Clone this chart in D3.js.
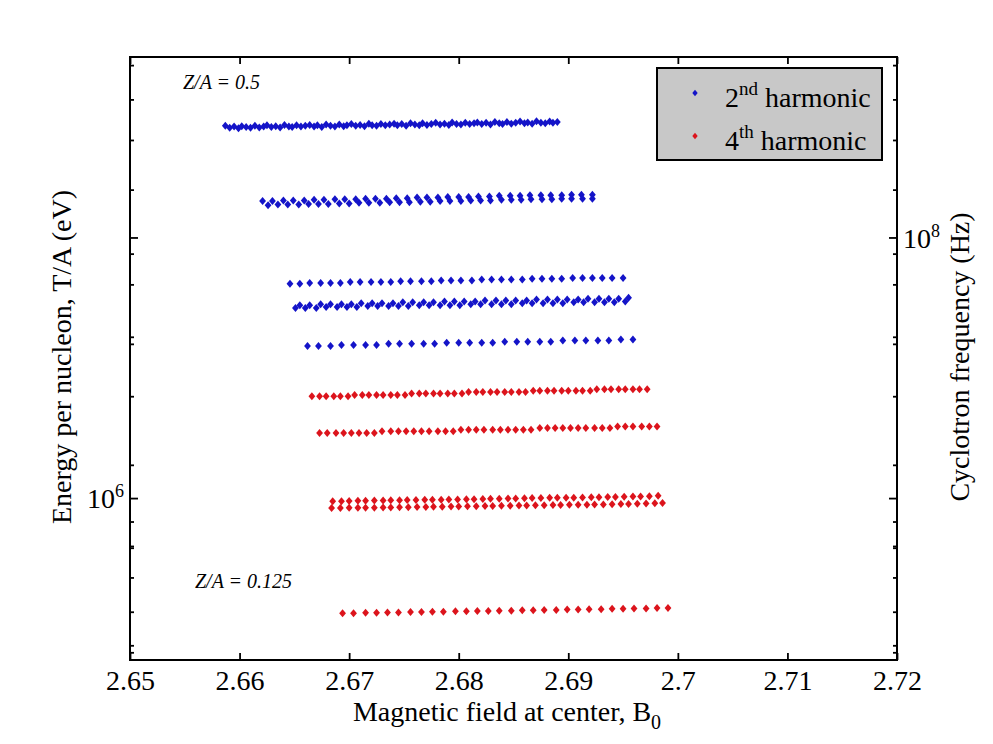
<!DOCTYPE html>
<html><head><meta charset="utf-8">
<script src="https://cdn.jsdelivr.net/npm/d3@7"></script>
</head><body style="margin:0;background:#fff">
<svg id="chart" width="993" height="744" style="display:block"></svg>
<script>
// ---------- axes definitions ----------
const xDomain = [2.65, 2.72];
const xTicks = [2.65, 2.66, 2.67, 2.68, 2.69, 2.70, 2.71, 2.72];
const xTickLabels = ["2.65", "2.66", "2.67", "2.68", "2.69", "2.7", "2.71", "2.72"];
const leftDomain = [4.83e5, 7.26e6];           // eV
const leftMajor = [1e6];
const leftMinor = [5e5, 6e5, 7e5, 8e5, 9e5, 2e6, 3e6, 4e6, 5e6, 6e6, 7e6];
const rightDomain = [3.87e7, 1.5e8];          // Hz
const rightMajor = [1e8];
const rightMinor = [4e7, 5e7, 6e7, 7e7, 8e7, 9e7];

// ---------- data (B in T, energy in MeV per nucleon) ----------
// 2nd harmonic (blue)
const blue1B = [2.6587,2.6591,2.6595,2.6599,2.6602,2.6606,2.6610,2.6614,2.6618,2.6622,2.6625,2.6629,2.6633,2.6637,2.6641,2.6645,2.6648,2.6652,2.6656,2.6660,2.6664,2.6668,2.6671,2.6675,2.6679,2.6683,2.6687,2.6691,2.6695,2.6698,2.6702,2.6706,2.6710,2.6714,2.6718,2.6721,2.6725,2.6729,2.6733,2.6737,2.6741,2.6744,2.6748,2.6752,2.6756,2.6760,2.6764,2.6767,2.6771,2.6775,2.6779,2.6783,2.6787,2.6791,2.6794,2.6798,2.6802,2.6806,2.6810,2.6814,2.6817,2.6821,2.6825,2.6829,2.6833,2.6837,2.6840,2.6844,2.6848,2.6852,2.6856,2.6860,2.6863,2.6867,2.6871,2.6875,2.6879,2.6883,2.6886,2.6890];
const blue1T = [5.33,5.28,5.31,5.27,5.32,5.30,5.28,5.33,5.29,5.31,5.34,5.30,5.32,5.29,5.35,5.31,5.30,5.34,5.31,5.33,5.35,5.31,5.34,5.30,5.36,5.33,5.31,5.36,5.32,5.34,5.37,5.33,5.35,5.32,5.38,5.34,5.33,5.37,5.34,5.36,5.38,5.34,5.37,5.33,5.39,5.36,5.34,5.39,5.35,5.37,5.40,5.36,5.38,5.35,5.41,5.37,5.36,5.40,5.37,5.39,5.41,5.37,5.40,5.36,5.42,5.39,5.37,5.42,5.38,5.40,5.43,5.39,5.41,5.38,5.44,5.40,5.39,5.43,5.40,5.42];
const blue2aB = [2.6621,2.6630,2.6640,2.6649,2.6659,2.6668,2.6677,2.6687,2.6696,2.6706,2.6715,2.6724,2.6734,2.6743,2.6753,2.6762,2.6771,2.6781,2.6790,2.6800,2.6809,2.6818,2.6828,2.6837,2.6847,2.6856,2.6865,2.6875,2.6884,2.6894,2.6903,2.6912,2.6922];
const blue2aT = [3.80,3.80,3.81,3.81,3.81,3.82,3.82,3.83,3.83,3.83,3.84,3.84,3.84,3.85,3.85,3.86,3.86,3.86,3.87,3.87,3.87,3.88,3.88,3.89,3.89,3.89,3.90,3.90,3.90,3.90,3.91,3.91,3.91];
const blue2bB = [2.6626,2.6635,2.6644,2.6654,2.6663,2.6672,2.6681,2.6691,2.6700,2.6709,2.6718,2.6728,2.6737,2.6746,2.6755,2.6765,2.6774,2.6783,2.6792,2.6802,2.6811,2.6820,2.6829,2.6839,2.6848,2.6857,2.6866,2.6876,2.6885,2.6894,2.6903,2.6913,2.6922];
const blue2bT = [3.73,3.74,3.74,3.74,3.75,3.75,3.75,3.76,3.76,3.77,3.77,3.77,3.78,3.78,3.78,3.79,3.79,3.80,3.80,3.80,3.81,3.81,3.81,3.82,3.82,3.82,3.83,3.83,3.83,3.84,3.84,3.84,3.84];
const blue3B = [2.6646,2.6655,2.6664,2.6674,2.6683,2.6692,2.6701,2.6710,2.6720,2.6729,2.6738,2.6747,2.6756,2.6766,2.6775,2.6784,2.6793,2.6802,2.6812,2.6821,2.6830,2.6839,2.6848,2.6858,2.6867,2.6876,2.6885,2.6894,2.6904,2.6913,2.6922,2.6931,2.6940,2.6950];
const blue3T = [2.62,2.62,2.63,2.63,2.63,2.63,2.64,2.64,2.64,2.64,2.64,2.65,2.65,2.65,2.65,2.66,2.66,2.66,2.66,2.67,2.67,2.67,2.67,2.67,2.68,2.68,2.68,2.68,2.69,2.69,2.69,2.69,2.69,2.69];
const blue4aB = [2.6651,2.6660,2.6670,2.6679,2.6689,2.6698,2.6707,2.6717,2.6726,2.6736,2.6745,2.6754,2.6764,2.6773,2.6783,2.6792,2.6801,2.6811,2.6820,2.6830,2.6839,2.6848,2.6858,2.6867,2.6877,2.6886,2.6895,2.6905,2.6914,2.6924,2.6933,2.6942,2.6952];
const blue4aT = [2.35,2.35,2.35,2.36,2.36,2.36,2.36,2.37,2.37,2.37,2.37,2.37,2.38,2.38,2.38,2.38,2.38,2.39,2.39,2.39,2.39,2.39,2.40,2.40,2.40,2.40,2.40,2.41,2.41,2.41,2.41,2.41,2.42];
const blue4bB = [2.6655,2.6664,2.6674,2.6683,2.6693,2.6702,2.6711,2.6721,2.6730,2.6740,2.6749,2.6758,2.6768,2.6777,2.6787,2.6796,2.6805,2.6815,2.6824,2.6834,2.6843,2.6852,2.6862,2.6871,2.6881,2.6890,2.6899,2.6909,2.6918,2.6928,2.6937,2.6946,2.6955];
const blue4bT = [2.38,2.38,2.39,2.39,2.39,2.39,2.40,2.40,2.40,2.40,2.41,2.41,2.41,2.41,2.42,2.42,2.42,2.42,2.43,2.43,2.43,2.43,2.43,2.44,2.44,2.44,2.44,2.44,2.45,2.45,2.45,2.45,2.46];
const blue5B = [2.6662,2.6672,2.6683,2.6693,2.6704,2.6715,2.6725,2.6736,2.6746,2.6757,2.6768,2.6778,2.6789,2.6800,2.6810,2.6821,2.6831,2.6842,2.6853,2.6863,2.6874,2.6884,2.6895,2.6906,2.6916,2.6927,2.6937,2.6948,2.6959];
const blue5T = [1.98,1.98,1.98,1.99,1.99,1.99,1.99,2.00,2.00,2.00,2.00,2.00,2.01,2.01,2.01,2.01,2.01,2.02,2.02,2.02,2.02,2.02,2.03,2.03,2.03,2.03,2.03,2.04,2.04];
// 4th harmonic (red)
const red1B = [2.6666,2.6673,2.6679,2.6686,2.6692,2.6699,2.6705,2.6712,2.6718,2.6725,2.6731,2.6738,2.6744,2.6751,2.6757,2.6764,2.6770,2.6777,2.6783,2.6790,2.6796,2.6803,2.6809,2.6816,2.6822,2.6829,2.6835,2.6842,2.6848,2.6855,2.6861,2.6868,2.6874,2.6881,2.6887,2.6894,2.6900,2.6907,2.6913,2.6920,2.6926,2.6933,2.6939,2.6946,2.6952,2.6959,2.6965,2.6972];
const red1T = [1.58,1.58,1.58,1.58,1.58,1.58,1.59,1.59,1.59,1.59,1.59,1.59,1.59,1.59,1.60,1.60,1.60,1.60,1.60,1.60,1.60,1.60,1.61,1.61,1.61,1.61,1.61,1.61,1.61,1.61,1.61,1.62,1.62,1.62,1.62,1.62,1.62,1.62,1.62,1.62,1.63,1.63,1.63,1.63,1.63,1.63,1.63,1.63];
const red2B = [2.6673,2.6680,2.6688,2.6695,2.6702,2.6709,2.6716,2.6723,2.6730,2.6738,2.6745,2.6752,2.6759,2.6766,2.6773,2.6781,2.6788,2.6795,2.6802,2.6809,2.6816,2.6823,2.6831,2.6838,2.6845,2.6852,2.6859,2.6866,2.6874,2.6881,2.6888,2.6895,2.6902,2.6909,2.6916,2.6924,2.6931,2.6938,2.6945,2.6952,2.6959,2.6967,2.6974,2.6981];
const red2T = [1.34,1.34,1.34,1.34,1.34,1.34,1.34,1.34,1.35,1.35,1.35,1.35,1.35,1.35,1.35,1.35,1.35,1.35,1.36,1.36,1.36,1.36,1.36,1.36,1.36,1.36,1.36,1.36,1.37,1.37,1.37,1.37,1.37,1.37,1.37,1.37,1.37,1.37,1.38,1.38,1.38,1.38,1.38,1.38];
const red3aB = [2.6685,2.6693,2.6700,2.6708,2.6715,2.6723,2.6731,2.6738,2.6746,2.6753,2.6761,2.6769,2.6776,2.6784,2.6791,2.6799,2.6807,2.6814,2.6822,2.6829,2.6837,2.6845,2.6852,2.6860,2.6867,2.6875,2.6883,2.6890,2.6898,2.6905,2.6913,2.6921,2.6928,2.6936,2.6943,2.6951,2.6959,2.6966,2.6974,2.6982];
const red3aT = [0.986,0.986,0.987,0.988,0.988,0.989,0.989,0.990,0.990,0.991,0.991,0.992,0.993,0.993,0.994,0.994,0.995,0.995,0.996,0.997,0.997,0.998,0.998,0.999,1.000,1.000,1.001,1.001,1.002,1.002,1.003,1.004,1.004,1.005,1.005,1.006,1.007,1.007,1.008,1.010];
const red3bB = [2.6684,2.6692,2.6700,2.6708,2.6715,2.6723,2.6731,2.6738,2.6746,2.6754,2.6762,2.6770,2.6777,2.6785,2.6793,2.6800,2.6808,2.6816,2.6824,2.6831,2.6839,2.6847,2.6855,2.6862,2.6870,2.6878,2.6886,2.6893,2.6901,2.6909,2.6917,2.6924,2.6932,2.6940,2.6948,2.6955,2.6963,2.6971,2.6979,2.6986];
const red3bT = [0.956,0.956,0.957,0.957,0.958,0.958,0.959,0.959,0.960,0.960,0.961,0.961,0.962,0.962,0.963,0.963,0.964,0.964,0.965,0.965,0.966,0.966,0.967,0.967,0.968,0.968,0.969,0.969,0.970,0.971,0.971,0.972,0.972,0.973,0.974,0.974,0.975,0.976,0.977,0.978];
const red4B = [2.6694,2.6704,2.6715,2.6725,2.6735,2.6745,2.6756,2.6766,2.6776,2.6786,2.6797,2.6807,2.6817,2.6827,2.6837,2.6848,2.6858,2.6868,2.6878,2.6889,2.6899,2.6909,2.6919,2.6930,2.6940,2.6950,2.6960,2.6971,2.6981,2.6991];
const red4T = [0.596,0.596,0.597,0.597,0.598,0.598,0.599,0.599,0.600,0.600,0.601,0.601,0.602,0.602,0.603,0.603,0.604,0.604,0.605,0.605,0.606,0.606,0.607,0.607,0.608,0.608,0.609,0.609,0.610,0.610];

const blueColor = "#1414c8", redColor = "#dc141c";
const groups = [
  {color: blueColor, B: blue1B, T: blue1T},
  {color: blueColor, B: blue2aB, T: blue2aT},
  {color: blueColor, B: blue2bB, T: blue2bT},
  {color: blueColor, B: blue3B, T: blue3T},
  {color: blueColor, B: blue4aB, T: blue4aT},
  {color: blueColor, B: blue4bB, T: blue4bT},
  {color: blueColor, B: blue5B, T: blue5T},
  {color: redColor, B: red1B, T: red1T},
  {color: redColor, B: red2B, T: red2T},
  {color: redColor, B: red3aB, T: red3aT},
  {color: redColor, B: red3bB, T: red3bT},
  {color: redColor, B: red4B, T: red4T}
];
const legendItems = [
  {num: "2", sup: "nd", rest: " harmonic", color: blueColor},
  {num: "4", sup: "th", rest: " harmonic", color: redColor}
];

// ---------- layout ----------
const FONT = "'Liberation Serif'";
const L = 130, R = 897, T = 57, Bm = 660;
const svg = d3.select("#chart");
svg.append("rect").attr("width", 993).attr("height", 744).attr("fill", "#fff");

const x = d3.scaleLinear().domain(xDomain).range([L, R]);
const yL = d3.scaleLog().domain(leftDomain).range([Bm, T]);
const yR = d3.scaleLog().domain(rightDomain).range([Bm, T]);

function txt(sel, size) {
  return sel.append("text").style("font-family", FONT).style("font-size", size + "px").attr("fill", "#000");
}
function styleAxis(g) {
  g.select(".domain").remove();
  g.selectAll(".tick line").attr("stroke", "#000").attr("stroke-width", 1.8);
}

// x axis bottom & top
svg.append("g").attr("transform", `translate(0,${Bm})`)
  .call(d3.axisBottom(x).tickValues(xTicks).tickSize(-7).tickFormat((d, i) => xTickLabels[i]))
  .call(styleAxis)
  .call(g => g.selectAll("text").style("font-family", FONT).style("font-size", "28px")
    .attr("fill", "#000").attr("dy", null).attr("y", 30));
svg.append("g").attr("transform", `translate(0,${T})`)
  .call(d3.axisTop(x).tickValues(xTicks).tickSize(-7).tickFormat(""))
  .call(styleAxis);

// y ticks of both axes, drawn inward on both sides of the box
[[d3.axisLeft, L], [d3.axisRight, R]].forEach(([ax, pos]) => {
  svg.append("g").attr("transform", `translate(${pos},0)`)
    .call(ax(yL).tickValues(leftMajor).tickSize(-8).tickFormat("")).call(styleAxis);
  svg.append("g").attr("transform", `translate(${pos},0)`)
    .call(ax(yL).tickValues(leftMinor).tickSize(-4).tickFormat("")).call(styleAxis);
  svg.append("g").attr("transform", `translate(${pos},0)`)
    .call(ax(yR).tickValues(rightMajor).tickSize(-8).tickFormat("")).call(styleAxis);
  svg.append("g").attr("transform", `translate(${pos},0)`)
    .call(ax(yR).tickValues(rightMinor).tickSize(-4).tickFormat("")).call(styleAxis);
});

// major tick labels with superscript exponents
leftMajor.forEach(v => {
  const t = txt(svg, 28).attr("x", 124).attr("y", yL(v) + 10).attr("text-anchor", "end");
  t.append("tspan").text("10");
  t.append("tspan").style("font-size", "18px").attr("dy", -11).text(Math.round(Math.log10(v)));
});
rightMajor.forEach(v => {
  const t = txt(svg, 28).attr("x", 903).attr("y", yR(v) + 11);
  t.append("tspan").text("10");
  t.append("tspan").style("font-size", "18px").attr("dy", -11).text(Math.round(Math.log10(v)));
});

// frame
svg.append("rect").attr("x", L).attr("y", T).attr("width", R - L).attr("height", Bm - T)
  .attr("fill", "none").attr("stroke", "#000").attr("stroke-width", 2);

// data markers
const diamond = "M0,-4L3.4,0L0,4L-3.4,0Z";
groups.forEach(gr => {
  const pts = gr.B.map((b, i) => ({B: b, T: gr.T[i] * 1e6}));
  svg.append("g").selectAll("path").data(pts).join("path")
    .attr("d", diamond)
    .attr("transform", d => `translate(${x(d.B)},${yL(d.T)})`)
    .attr("fill", gr.color);
});

// annotations
txt(svg, 20).attr("x", 183).attr("y", 89).style("font-style", "italic").text("Z/A = 0.5");
txt(svg, 20).attr("x", 195).attr("y", 588).style("font-style", "italic").text("Z/A = 0.125");

// axis labels
const xl = txt(svg, 28).attr("x", 507).attr("y", 721).attr("text-anchor", "middle");
xl.append("tspan").text("Magnetic field at center, B");
xl.append("tspan").style("font-size", "20px").attr("dy", 8).text("0");

txt(svg, 28).attr("transform", "translate(71,357) rotate(-90)")
  .attr("text-anchor", "middle").text("Energy per nucleon, T/A (eV)");
txt(svg, 28).attr("transform", "translate(969,357) rotate(-90)")
  .attr("text-anchor", "middle").text("Cyclotron frequency (Hz)");

// legend
const lg = svg.append("g");
lg.append("rect").attr("x", 657).attr("y", 68).attr("width", 225).attr("height", 92)
  .attr("fill", "#c8c8c8").attr("stroke", "#000").attr("stroke-width", 2);
legendItems.forEach((it, i) => {
  const cy = 93 + i * 43;
  lg.append("path").attr("d", "M0,-3.2L2.7,0L0,3.2L-2.7,0Z")
    .attr("transform", `translate(695,${cy})`).attr("fill", it.color);
  const t = txt(lg, 28).attr("x", 725).attr("y", cy + 14);
  t.append("tspan").text(it.num);
  t.append("tspan").style("font-size", "19px").attr("dy", -12).text(it.sup);
  t.append("tspan").attr("dy", 12).text(it.rest);
});
</script>
</body></html>
